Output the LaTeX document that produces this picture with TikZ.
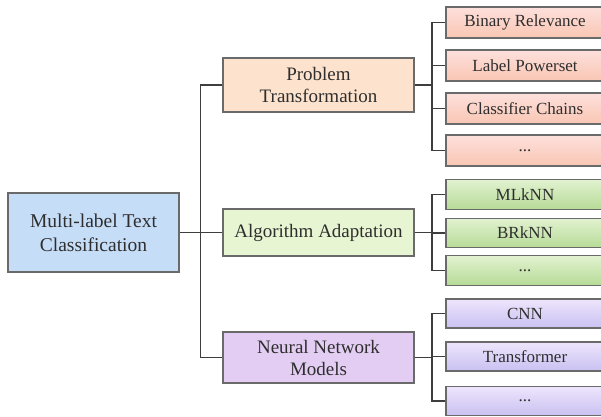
\documentclass[tikz,border=0pt]{standalone}
\usepackage{fontspec}
\setmainfont{Liberation Serif}
\begin{document}
\begin{tikzpicture}[x=1pt,y=-1pt,
  box/.style={draw=boxline, line width=1.2pt, text=txt, align=center, inner sep=0pt},
  rootbox/.style={box, fill=rootfill, minimum width=171pt, minimum height=79pt, font=\fontsize{19.5}{24}\selectfont},
  midbox/.style={box, minimum width=191pt, font=\fontsize{19}{22}\selectfont},
  leafbox/.style={box, minimum width=158pt, font=\fontsize{17}{20}\selectfont},
  ptleaf/.style={leafbox, top color=ptA, bottom color=ptB, minimum height=31pt},
  aaleaf/.style={leafbox, top color=aaA, bottom color=aaB, minimum height=29.5pt},
  nnleaf/.style={leafbox, top color=nnA, bottom color=nnB, minimum height=29pt},
  link/.style={draw=linkc, line width=1.8pt}
]
\definecolor{boxline}{HTML}{6A6A6A}
\definecolor{linkc}{HTML}{3E3E3E}
\definecolor{txt}{HTML}{2E2E2E}
\definecolor{rootfill}{HTML}{C6DDF8}
\definecolor{ptfill}{HTML}{FDE3CD}
\definecolor{aafill}{HTML}{E8F5D2}
\definecolor{nnfill}{HTML}{E3CDF3}
\definecolor{ptA}{HTML}{FDE0DC}
\definecolor{ptB}{HTML}{F9C6B3}
\definecolor{aaA}{HTML}{E2F2D0}
\definecolor{aaB}{HTML}{B6DB97}
\definecolor{nnA}{HTML}{EEE5FC}
\definecolor{nnB}{HTML}{C9C1F1}

\useasboundingbox (0,0) rectangle (601,416);

% root and second level
\node[rootbox] (root) at (93.5,232.5) {Multi-label Text\\Classification};
\node[midbox, fill=ptfill, minimum height=54pt] (pt) at (318.5,85) {Problem\\Transformation};
\node[midbox, fill=aafill, minimum height=47pt] (aa) at (318.5,232.5) {Algorithm Adaptation};
\node[midbox, fill=nnfill, minimum height=51pt] (nn) at (318.5,357.5) {Neural Network\\Models};

% leaves
\node[ptleaf] (pt1) at (525,22.5) {Binary Relevance};
\node[ptleaf] (pt2) at (525,65.5) {Label Powerset};
\node[ptleaf] (pt3) at (525,108.5) {Classifier Chains};
\node[ptleaf] (pt4) at (525,150.5) {...};
\node[aaleaf] (aa1) at (525,194.5) {MLkNN};
\node[aaleaf] (aa2) at (525,233) {BRkNN};
\node[aaleaf] (aa3) at (525,270.5) {...};
\node[nnleaf] (nn1) at (525,313.5) {CNN};
\node[nnleaf] (nn2) at (525,356.5) {Transformer};
\node[nnleaf] (nn3) at (525,401) {...};

% connectors
\draw[link] (root.east) -- (aa.west);
\draw[link] (pt.west) -- ++(-22,0) |- (nn.west);
\foreach \l in {pt1,pt2,pt3,pt4}
  \draw[link] (pt.east) -- ++(17,0) |- (\l.west);
\foreach \l in {aa1,aa2,aa3}
  \draw[link] (aa.east) -- ++(17,0) |- (\l.west);
\foreach \l in {nn1,nn2,nn3}
  \draw[link] (nn.east) -- ++(17,0) |- (\l.west);
\end{tikzpicture}
\end{document}
